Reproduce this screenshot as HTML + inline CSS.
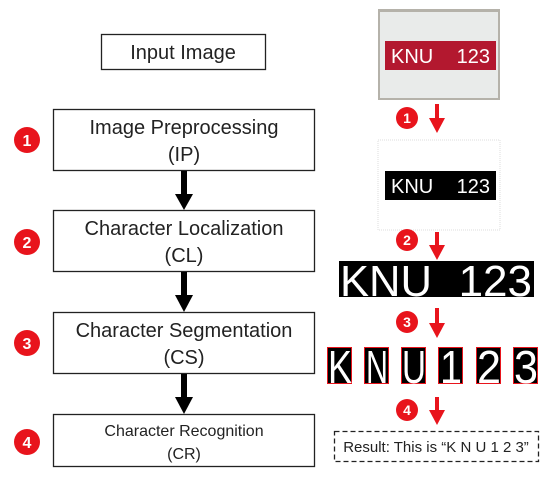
<!DOCTYPE html>
<html><head><style>
body{margin:0;background:#fff;}
svg text{font-family:"Liberation Sans",sans-serif;}
</style></head><body>
<svg width="550" height="477" viewBox="0 0 550 477" xmlns="http://www.w3.org/2000/svg">
<g fill="none" stroke="#222" stroke-width="1.3">
<rect x="101.5" y="34.5" width="164" height="35"/>
<rect x="53.5" y="109.5" width="261" height="61"/>
<rect x="53.5" y="210.5" width="261" height="61"/>
<rect x="53.5" y="312.5" width="261" height="61"/>
<rect x="53.5" y="414.5" width="261" height="52"/>
</g>
<g fill="#222" font-size="20" text-anchor="middle">
<text x="183" y="59">Input Image</text>
<text x="184" y="134">Image Preprocessing</text>
<text x="184" y="161">(IP)</text>
<text x="184" y="235">Character Localization</text>
<text x="184" y="262">(CL)</text>
<text x="184" y="337">Character Segmentation</text>
<text x="184" y="364">(CS)</text>
<text x="184" y="436" font-size="16">Character Recognition</text>
<text x="184" y="459" font-size="16">(CR)</text>
</g>
<g fill="#000">
<rect x="181" y="171" width="6" height="24"/><polygon points="175,194 193,194 184,210"/>
<rect x="181" y="272" width="6" height="24"/><polygon points="175,295 193,295 184,312"/>
<rect x="181" y="374" width="6" height="24"/><polygon points="175,397 193,397 184,414"/>
</g>
<g font-size="16" font-weight="bold" fill="#fff" text-anchor="middle">
<circle cx="27" cy="140" r="13" fill="#e8141c"/><text x="27" y="146">1</text>
<circle cx="27" cy="242" r="13" fill="#e8141c"/><text x="27" y="248">2</text>
<circle cx="27" cy="343" r="13" fill="#e8141c"/><text x="27" y="349">3</text>
<circle cx="27" cy="442" r="13" fill="#e8141c"/><text x="27" y="448">4</text>
</g>
<rect x="378" y="9" width="122" height="91" fill="#b5b2aa"/>
<rect x="380" y="12" width="118" height="86" fill="#e9ebea"/>
<rect x="385" y="41" width="111" height="29" fill="#b3182f"/>
<text x="391" y="63" font-size="20" fill="#fff">KNU</text>
<text x="490" y="63" font-size="20" fill="#fff" text-anchor="end">123</text>
<rect x="378" y="140" width="122" height="90" fill="#fff" stroke="#ddd" stroke-dasharray="1 1"/>
<rect x="385" y="171" width="111" height="29" fill="#000"/>
<text x="391" y="193" font-size="20" fill="#fff">KNU</text>
<text x="490" y="193" font-size="20" fill="#fff" text-anchor="end">123</text>
<rect x="339" y="261" width="195" height="36" fill="#000"/>
<text x="340" y="296" font-size="44" fill="#fff" textLength="92" lengthAdjust="spacingAndGlyphs">KNU</text>
<text x="532" y="296" font-size="44" fill="#fff" text-anchor="end">123</text>
<g fill="#000" stroke="#e8141c" stroke-width="1">
<rect x="327.5" y="347.5" width="24" height="36"/>
<rect x="364.5" y="347.5" width="24" height="36"/>
<rect x="401.5" y="347.5" width="24" height="36"/>
<rect x="438.5" y="347.5" width="24" height="36"/>
<rect x="476.5" y="347.5" width="24" height="36"/>
<rect x="513.5" y="347.5" width="24" height="36"/>
</g>
<g font-size="46" fill="#fff" text-anchor="middle">
<text x="340" y="383" textLength="24" lengthAdjust="spacingAndGlyphs">K</text>
<text x="377" y="383" textLength="22" lengthAdjust="spacingAndGlyphs">N</text>
<text x="414" y="383" textLength="24" lengthAdjust="spacingAndGlyphs">U</text>
<text x="451" y="383" textLength="22" lengthAdjust="spacingAndGlyphs">1</text>
<text x="489" y="383" textLength="24" lengthAdjust="spacingAndGlyphs">2</text>
<text x="526" y="383" textLength="24" lengthAdjust="spacingAndGlyphs">3</text>
</g>
<rect x="334.5" y="431.5" width="204" height="30" fill="none" stroke="#222" stroke-width="1.3" stroke-dasharray="5 3"/>
<text x="436" y="452" font-size="15" fill="#222" text-anchor="middle">Result: This is “K N U 1 2 3”</text>
<g fill="#e8141c">
<circle cx="407" cy="118" r="11"/><rect x="435" y="104" width="4" height="16"/><polygon points="429,118 445,118 437,133"/>
<circle cx="407" cy="240" r="11"/><rect x="435" y="232" width="4" height="14"/><polygon points="429,245 445,245 437,260"/>
<circle cx="407" cy="322" r="11"/><rect x="435" y="308" width="4" height="16"/><polygon points="429,323 445,323 437,338"/>
<circle cx="407" cy="410" r="11"/><rect x="435" y="397" width="4" height="14"/><polygon points="429,410 445,410 437,425"/>
</g>
<g font-size="14" font-weight="bold" fill="#fff" text-anchor="middle">
<text x="407" y="123">1</text><text x="407" y="245">2</text><text x="407" y="327">3</text><text x="407" y="415">4</text>
</g>
</svg>
</body></html>
